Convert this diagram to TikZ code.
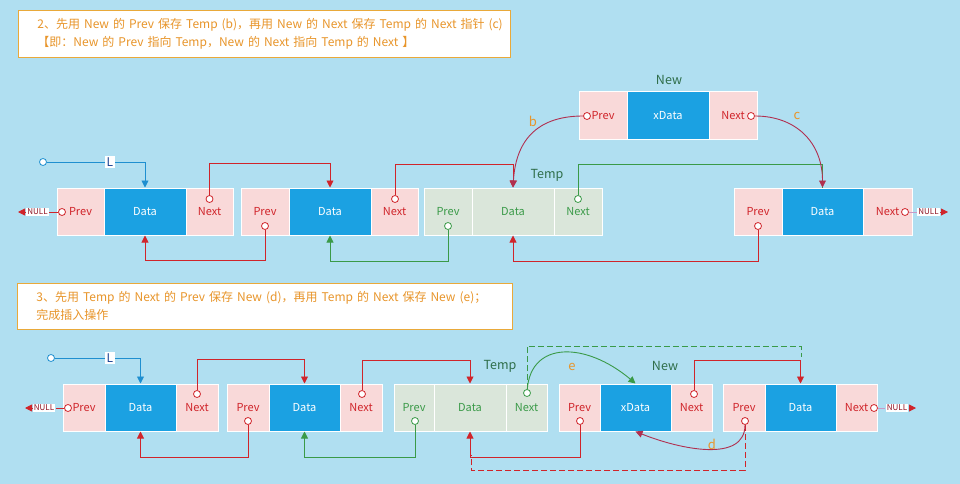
\documentclass[tikz,border=0pt]{standalone}
\usepackage{fontspec}
\setmainfont{Noto Sans CJK SC}
\usetikzlibrary{arrows.meta}

\definecolor{bgc}{HTML}{B0DFF1}
\definecolor{pinkc}{HTML}{F9D9D9}
\definecolor{bluec}{HTML}{1BA1E2}
\definecolor{tempc}{HTML}{DAE6DA}
\definecolor{redl}{HTML}{D0242A}
\definecolor{greenl}{HTML}{3A9A48}
\definecolor{orangec}{HTML}{E8952A}
\definecolor{boxc}{HTML}{E9A93A}
\definecolor{namec}{HTML}{2F6E4A}
\definecolor{bluel}{HTML}{1E8FD0}
\definecolor{curvec}{HTML}{B03050}
\definecolor{nullc}{HTML}{8E1020}
\definecolor{lilac}{HTML}{C89AC8}

\begin{document}
\begin{tikzpicture}
        [x=1pt,y=-1pt,line width=0.9pt,
        cell/.style={draw=white,line width=1pt,minimum height=47pt,inner sep=0pt,font=\fontsize{11}{12}\selectfont},
        prevcell/.style={cell,fill=pinkc,text=redl},
        datacell/.style={cell,fill=bluec,text=white},
        tempcell/.style={cell,fill=tempc,text=greenl},
        dot/.style={circle,draw=redl,fill=white,inner sep=0pt,minimum size=7pt,line width=0.8pt},
        gdot/.style={dot,draw=greenl},
        bdot/.style={dot,draw=bluel},
        arr/.style={-{Triangle[length=7pt,width=7pt]}},
        redline/.style={redl,arr},
        greenline/.style={greenl,arr},
        curveline/.style={curvec,arr},
        oldlink/.style={dash pattern=on 6pt off 3pt},
        nullbox/.style={fill=white,text=nullc,inner sep=1pt,font=\fontsize{8}{9}\selectfont},
        lname/.style={fill=white,text=namec!60!blue,inner sep=1.5pt,font=\fontsize{12}{14}\selectfont},
        tagname/.style={text=namec,font=\fontsize{12.5}{14}\selectfont},
        letter/.style={text=orangec,font=\fontsize{13}{15}\selectfont},
        notebox/.style={draw=boxc,fill=white,anchor=north west,align=left,text=orangec,
          inner xsep=19pt,font=\fontsize{12}{18}\selectfont}]
        \fill[bgc] (0,0) rectangle (960,484);
        \useasboundingbox (0,0) rectangle (960,484);

        % step 2
        \node[notebox,minimum width=492pt,minimum height=47pt,text width=454pt] (note2) at (18,10)
          {\mbox{2、先用 New 的 Prev 保存 Temp (b)，再用 New 的 Next 保存 Temp 的 Next 指针 (c)}\\
           \mbox{【即：New 的 Prev 指向 Temp，New 的 Next 指向 Temp 的 Next 】}};

        \node[prevcell,minimum width=47pt] (ap1) at (80.5,211.5) {Prev};
        \node[datacell,minimum width=82pt] (ad1) at (145,211.5) {Data};
        \node[prevcell,minimum width=47pt] (an1) at (209.5,211.5) {Next};
        \node[prevcell,minimum width=48pt] (ap2) at (265,211.5) {Prev};
        \node[datacell,minimum width=82pt] (ad2) at (330,211.5) {Data};
        \node[prevcell,minimum width=47pt] (an2) at (394.5,211.5) {Next};
        \node[tempcell,minimum width=48pt] (atp) at (448,211.5) {Prev};
        \node[tempcell,minimum width=82pt] (atd) at (513,211.5) {Data};
        \node[tempcell,minimum width=48pt] (atn) at (578,211.5) {Next};
        \node[prevcell,minimum width=48pt] (ap4) at (758,211.5) {Prev};
        \node[datacell,minimum width=81pt] (ad4) at (822.5,211.5) {Data};
        \node[prevcell,minimum width=49pt] (an4) at (887.5,211.5) {Next};
        \node[prevcell,minimum width=48pt] (anp) at (603,115.5) {Prev};
        \node[datacell,minimum width=82pt] (and) at (668,115.5) {xData};
        \node[prevcell,minimum width=48pt] (ann) at (733,115.5) {Next};
        \node[tagname] (anew) at (669,80) {New};
        \node[tagname] (atemp) at (547,175) {Temp};

        \node[dot] (ap1o) at (62,212) {};
        \node[dot] (an1o) at (209.5,199) {};
        \node[dot] (ap2o) at (265,226) {};
        \node[dot] (an2o) at (395,199) {};
        \node[gdot] (atpo) at (448,226) {};
        \node[gdot] (atno) at (578,199) {};
        \node[dot] (ap4o) at (758,226) {};
        \node[dot] (an4o) at (905,212) {};
        \node[dot] (anpo) at (587,116) {};
        \node[dot] (anno) at (751,116) {};
        \node[bdot] (aLo) at (43,162) {};
        \node[nullbox] (anull1) at (37.5,212) {NULL};
        \node[nullbox] (anull2) at (928.5,212) {NULL};
        \coordinate (aend1) at (18,212);
        \coordinate (aend2) at (948,212);

        \draw[bluel,arr] (aLo) -| (ad1.north);
        \node[lname] (aL) at (110,162) {L};
        \draw[redl] (ap1o) -- (anull1);
        \draw[redline] (anull1) -- (aend1);
        \draw[lilac] (an4o) -- (anull2);
        \draw[redline] (anull2) -- (aend2);
        \draw[redline] (an1o) -- ++(0,-36) -| (ad2.north);
        \draw[redline] (ap2o) -- ++(0,34) -| (ad1.south);
        \draw[redline] (an2o) -- ++(0,-35) -| (atd.north);
        \draw[greenline] (atpo) -- ++(0,35) -| (ad2.south);
        \draw[greenl] (atno) -- ++(0,-35) -| (ad4.north);
        \draw[redline] (ap4o) -- ++(0,35) -| (atd.south);
        % b and c
        \draw[curveline] (anpo) .. controls +(-47,0) and +(3,-50) .. (atd.north);
        \draw[curveline] (anno) .. controls +(45,0) and +(0,-45) .. (ad4.north);
        \node[letter] (ab) at (533,121) {b};
        \node[letter] (ac) at (797,116) {c};

        % step 3
        \node[notebox,minimum width=495pt,minimum height=46pt,text width=457pt] (note3) at (17,283)
          {\mbox{3、先用 Temp 的 Next 的 Prev 保存 New (d)，再用 Temp 的 Next 保存 New (e)；}\\
           完成插入操作};

        \node[prevcell,minimum width=42pt] (bp1) at (84,407.5) {Prev};
        \node[datacell,minimum width=71pt] (bd1) at (140.5,407.5) {Data};
        \node[prevcell,minimum width=42pt] (bn1) at (197,407.5) {Next};
        \node[prevcell,minimum width=42pt] (bp2) at (248,407.5) {Prev};
        \node[datacell,minimum width=71pt] (bd2) at (304.5,407.5) {Data};
        \node[prevcell,minimum width=42pt] (bn2) at (361,407.5) {Next};
        \node[tempcell,minimum width=40pt] (btp) at (414,407.5) {Prev};
        \node[tempcell,minimum width=72pt] (btd) at (470,407.5) {Data};
        \node[tempcell,minimum width=41pt] (btn) at (526.5,407.5) {Next};
        \node[prevcell,minimum width=41pt] (bnp) at (579.5,407.5) {Prev};
        \node[datacell,minimum width=71pt] (bnd) at (635.5,407.5) {xData};
        \node[prevcell,minimum width=41pt] (bnn) at (691.5,407.5) {Next};
        \node[prevcell,minimum width=42pt] (bp4) at (744,407.5) {Prev};
        \node[datacell,minimum width=71pt] (bd4) at (800.5,407.5) {Data};
        \node[prevcell,minimum width=41pt] (bn4) at (856.5,407.5) {Next};
        \node[tagname] (btemp) at (500,366) {Temp};
        \node[tagname] (bnew) at (665,366) {New};

        \node[dot] (bp1o) at (68,408) {};
        \node[dot] (bn1o) at (197,394) {};
        \node[dot] (bp2o) at (248,421) {};
        \node[dot] (bn2o) at (362,394) {};
        \node[gdot] (btpo) at (415,421) {};
        \node[gdot] (btno) at (527,393) {};
        \node[dot] (bnpo) at (580,421) {};
        \node[dot] (bnno) at (694,394) {};
        \node[dot] (bp4o) at (745,421) {};
        \node[dot] (bn4o) at (874,408) {};
        \node[bdot] (bLo) at (51,358) {};
        \node[nullbox] (bnull1) at (44,408) {NULL};
        \node[nullbox] (bnull2) at (897,408) {NULL};
        \coordinate (bend1) at (25,408);
        \coordinate (bend2) at (916,408);
        \coordinate (bgreen) at (801,357);
        \coordinate (bred) at (471,455);

        \draw[bluel,arr] (bLo) -| (bd1.north);
        \node[lname] (bL) at (110,358) {L};
        \draw[redl] (bp1o) -- (bnull1);
        \draw[redline] (bnull1) -- (bend1);
        \draw[lilac] (bn4o) -- (bnull2);
        \draw[redline] (bnull2) -- (bend2);
        \draw[redline] (bn1o) -- ++(0,-35) -| (bd2.north);
        \draw[redline] (bp2o) -- ++(0,36) -| (bd1.south);
        \draw[redline] (bn2o) -- ++(0,-34) -| (btd.north);
        \draw[greenline] (btpo) -- ++(0,36) -| (bd2.south);
        \draw[redline] (bnpo) -- ++(0,36) -| (btd.south);
        \draw[redline] (bnno) -- ++(0,-34) -| (bd4.north);
        % the old links
        \draw[greenl,oldlink] (btno) -- ++(0,-47) -| (bgreen);
        \draw[redl,oldlink] (bp4o) -- ++(0,49) -| (bred);
        % d and e
        \draw[greenline] (btno) .. controls +(4,-52) and +(-50,-42) .. (bnd.north);
        \draw[curveline] (bp4o) .. controls +(0,42) and +(45,18) .. (bnd.south);
        \node[letter] (be) at (572,367) {e};
        \node[letter] (bdl) at (712,444) {d};
    \end{tikzpicture}
\end{document}
